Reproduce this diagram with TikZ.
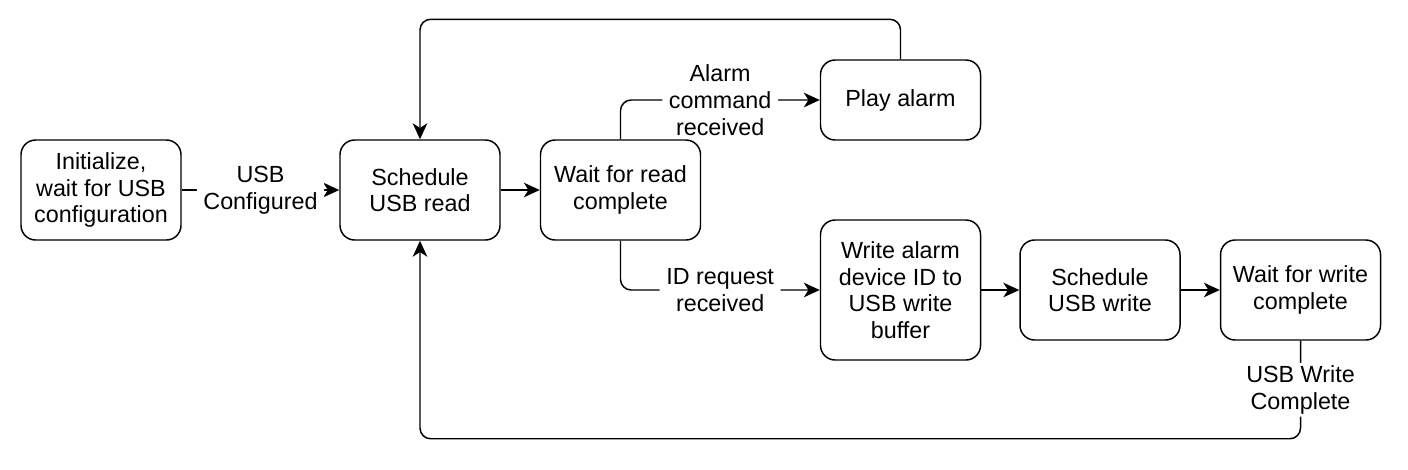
\documentclass[tikz,border=0pt]{standalone}
\usepackage{fontspec}
\setmainfont{Liberation Sans}
\usetikzlibrary{arrows.meta}

\begin{document}
\begin{tikzpicture}[x=0.75pt,y=0.75pt,yscale=-1,xscale=1,
  every node/.style={font=\fontsize{17.5}{20}\selectfont},
  state/.style={draw, line width=1.1pt, rounded corners=11pt, align=center,
    minimum width=120pt, minimum height=75pt, inner sep=2pt},
  flow/.style={line width=1.1pt, rounded corners=8pt,
    -{Stealth[length=12pt,width=11pt,inset=3.5pt]}},
  lbl/.style={fill=white, align=center, inner xsep=5pt, inner ysep=2pt}]
\useasboundingbox (0,0) rectangle (1408,469);

% States
\node[state] (init) at (101,190) {Initialize,\\wait for USB\\configuration};
\node[state] (sread) at (420,190) {Schedule\\USB read};
\node[state] (wread) at (620.5,190) {Wait for read\\complete};
\node[state, minimum height=60pt] (play) at (900.5,100) {Play alarm};
\node[state, minimum height=105pt] (wbuf) at (900.5,290) {Write alarm\\device ID to\\USB write\\buffer};
\node[state] (swrite) at (1100,290) {Schedule\\USB write};
\node[state] (wwrite) at (1300.5,290) {Wait for write\\complete};

% Transitions
\draw[flow] (init) -- node[lbl] {USB\\Configured} (sread);
\draw[flow] (sread) -- (wread);
\draw[flow] (wread.north) |- node[lbl, pos=0.75] {Alarm\\command\\received} (play.west);
\draw[flow] (wread.south) |- node[lbl, pos=0.75] {ID request\\received} (wbuf.west);
\draw[flow] (wbuf) -- (swrite);
\draw[flow] (swrite) -- (wwrite);
\draw[flow] (play.north) -- ++(0,-40) -| (sread.north);
\draw[flow] (wwrite.south) -- node[lbl] {USB Write\\Complete} ++(0,98) -| (sread.south);
\end{tikzpicture}
\end{document}
